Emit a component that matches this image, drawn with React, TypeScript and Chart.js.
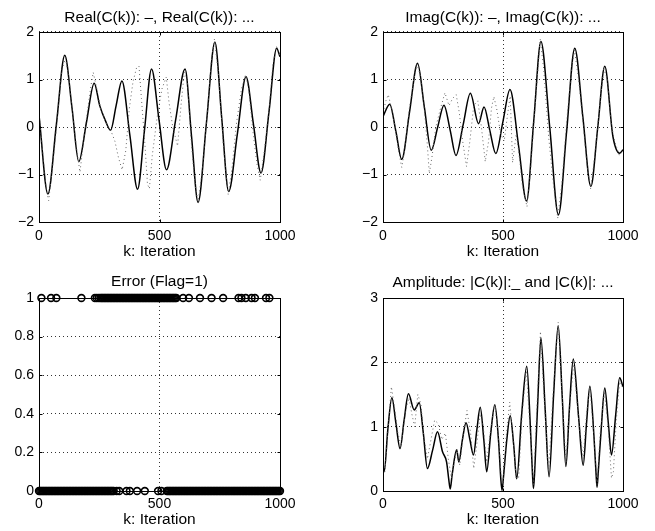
import React, { useEffect, useRef } from "react";
import { Chart, registerables } from "chart.js";

Chart.register(...registerables);

const FONT = '"Liberation Sans", Arial, Helvetica, sans-serif';

// ---- tick labels ----
const kTicks = [0, 500, 1000];
const reImTicks = [-2, -1, 0, 1, 2];
const flagTicks = [0, 0.2, 0.4, 0.6, 0.8, 1];
const ampTicks = [0, 1, 2, 3];

// ---- Real(C(k)) : solid ----
const realK = [0, 37, 72, 107, 137, 165, 197, 229, 252, 275, 297, 320, 344, 377, 409, 438, 467, 498, 529, 567, 606, 633, 660, 695, 730, 758, 787, 823, 859, 890, 921, 955, 986, 1000];
const realVal = [0.25, -1.41, 0.05, 1.51, 0.4, -0.73, 0.1, 0.92, 0.45, 0.14, -0.07, 0.45, 0.97, -0.17, -1.31, -0.05, 1.22, 0.15, -0.9, 0.15, 1.22, -0.2, -1.59, 0.1, 1.79, 0.2, -1.36, -0.15, 1.06, 0.05, -0.97, 0.35, 1.66, 1.48];
// ---- Real(C(k)) estimate : dotted ----
const realEstK = [0, 15, 30, 40, 55, 75, 95, 110, 125, 145, 160, 170, 185, 200, 215, 225, 240, 255, 270, 285, 300, 315, 330, 345, 360, 375, 390, 405, 415, 425, 440, 450, 458, 470, 490, 510, 528, 540, 555, 575, 590, 603, 615, 630, 645, 660, 680, 700, 715, 728, 745, 765, 785, 800, 820, 840, 857, 870, 890, 905, 918, 935, 955, 970, 985, 1000];
const realEstVal = [0.3, -0.5, -1.3, -1.55, -0.9, 0.1, 1.2, 1.45, 1.0, 0.0, -0.6, -0.95, -0.3, 0.3, 0.85, 1.15, 0.8, 0.4, 0.2, 0.0, -0.1, -0.3, -0.65, -0.9, -0.5, 0.4, 0.95, 1.25, 1.28, 0.6, -0.4, -1.2, -1.3, -0.6, 0.2, 0.8, 1.05, 0.5, 0.0, -0.4, 0.5, 1.15, 1.0, -0.2, -1.1, -1.6, -0.8, 0.4, 1.4, 1.85, 1.1, -0.4, -1.42, -0.9, 0.1, 0.8, 1.1, 0.8, -0.2, -0.8, -1.12, -0.5, 0.4, 1.3, 1.7, 1.5];

// ---- Imag(C(k)) : solid ----
const imagK = [0, 28, 54, 78, 111, 144, 172, 201, 228, 254, 280, 304, 334, 364, 398, 421, 445, 470, 500, 529, 565, 598, 628, 658, 695, 731, 765, 799, 833, 866, 895, 924, 958, 986, 1000];
const imagVal = [0.22, 0.48, -0.1, -0.68, 0.33, 1.34, 0.43, -0.49, 0.0, 0.46, -0.07, -0.6, 0.05, 0.71, 0.07, 0.42, -0.07, -0.56, 0.12, 0.79, -0.4, -1.56, 0.12, 1.8, -0.02, -1.85, -0.1, 1.66, 0.2, -1.25, 0.0, 1.28, -0.2, -0.55, -0.48];
// ---- Imag(C(k)) estimate : dotted ----
const imagEstK = [0, 12, 22, 35, 50, 65, 78, 90, 110, 130, 142, 155, 170, 185, 193, 205, 220, 240, 258, 275, 290, 305, 318, 332, 348, 362, 378, 395, 410, 426, 440, 452, 462, 475, 490, 505, 520, 530, 540, 555, 565, 580, 600, 615, 635, 655, 670, 690, 710, 728, 745, 765, 785, 798, 815, 835, 850, 865, 880, 900, 920, 935, 950, 965, 985, 1000];
const imagEstVal = [0.3, 0.55, 0.68, 0.4, 0.0, -0.5, -0.85, -0.5, 0.4, 1.05, 1.32, 1.1, 0.5, -0.4, -0.98, -0.6, 0.0, 0.4, 0.72, 0.45, 0.6, 0.68, 0.3, -0.3, -0.83, -0.3, 0.45, 0.55, 0.0, -0.73, -0.3, 0.4, 0.64, 0.35, -0.15, -0.3, 0.3, 0.65, -0.75, -0.15, -0.5, -1.2, -1.68, -0.9, 0.5, 1.85, 1.2, -0.2, -1.2, -1.92, -1.2, 0.1, 1.2, 1.62, 1.0, 0.0, -0.8, -1.3, -0.7, 0.3, 1.22, 1.0, 0.1, -0.3, -0.6, -0.5];

// ---- Error flag: iterations with Flag=1 and Flag=0 ----
const flagOneK = [10, 50, 72, 176, 232, 240, 248, 255, 260, 265, 270, 275, 280, 285, 290, 295, 300, 305, 310, 315, 320, 325, 330, 335, 340, 345, 350, 355, 360, 365, 370, 375, 380, 385, 390, 395, 400, 405, 410, 415, 420, 425, 430, 435, 440, 445, 450, 455, 460, 465, 470, 475, 480, 485, 490, 495, 500, 505, 510, 515, 520, 525, 530, 535, 540, 545, 550, 555, 560, 565, 570, 598, 622, 668, 716, 764, 828, 840, 858, 882, 896, 942, 956];
const flagZeroK = [0, 5, 10, 15, 20, 25, 30, 35, 40, 45, 50, 55, 60, 65, 70, 75, 80, 85, 90, 95, 100, 105, 110, 115, 120, 125, 130, 135, 140, 145, 150, 155, 160, 165, 170, 175, 180, 185, 190, 195, 200, 205, 210, 215, 220, 225, 230, 235, 240, 245, 250, 255, 260, 265, 270, 275, 280, 285, 290, 295, 300, 305, 310, 322, 333, 363, 377, 407, 439, 494, 508, 530, 535, 540, 545, 550, 555, 560, 565, 570, 575, 580, 585, 590, 595, 600, 605, 610, 615, 620, 625, 630, 635, 640, 645, 650, 655, 660, 665, 670, 675, 680, 685, 690, 695, 700, 705, 710, 715, 720, 725, 730, 735, 740, 745, 750, 755, 760, 765, 770, 775, 780, 785, 790, 795, 800, 805, 810, 815, 820, 825, 830, 835, 840, 845, 850, 855, 860, 865, 870, 875, 880, 885, 890, 895, 900, 905, 910, 915, 920, 925, 930, 935, 940, 945, 950, 955, 960, 965, 970, 975, 980, 985, 990, 995, 1000];

// ---- Amplitude |C(k)| : solid ----
const ampK = [0, 5, 20, 37, 54, 71, 88, 106, 130, 151, 168, 185, 207, 227, 248, 265, 274, 280, 288, 307, 316, 331, 346, 362, 377, 391, 405, 420, 432, 449, 466, 482, 491, 496, 502, 516, 530, 545, 557, 578, 599, 614, 623, 627, 632, 645, 658, 676, 692, 711, 730, 747, 762, 777, 793, 815, 834, 848, 862, 879, 888, 892, 897, 909, 924, 939, 952, 970, 986, 1000];
const ampVal = [0.45, 0.3, 0.95, 1.45, 1.05, 0.66, 1.1, 1.51, 1.26, 1.37, 0.9, 0.35, 0.64, 0.92, 0.61, 0.45, 0.18, 0.03, 0.25, 0.64, 0.45, 0.8, 1.06, 0.8, 0.56, 0.95, 1.3, 0.8, 0.3, 0.9, 1.34, 0.75, 0.18, 0.01, 0.22, 0.8, 1.17, 0.7, 0.19, 1.2, 1.94, 1.0, 0.25, 0.04, 0.3, 1.4, 2.38, 1.25, 0.22, 1.5, 2.57, 1.45, 0.38, 1.3, 2.05, 1.15, 0.4, 1.05, 1.63, 0.85, 0.25, 0.06, 0.3, 0.95, 1.6, 1.05, 0.56, 1.2, 1.76, 1.62];
// ---- Amplitude estimate : dotted ----
const ampEstK = [0, 8, 22, 35, 48, 62, 75, 95, 108, 120, 132, 145, 158, 170, 185, 200, 215, 230, 245, 260, 272, 285, 297, 308, 320, 335, 350, 365, 378, 390, 405, 418, 432, 450, 465, 480, 492, 500, 512, 528, 542, 555, 565, 580, 597, 612, 627, 640, 656, 672, 690, 710, 730, 748, 762, 780, 795, 815, 834, 848, 862, 878, 892, 905, 922, 938, 952, 960, 972, 986, 1000];
const ampEstVal = [0.5, 0.3, 1.0, 1.62, 1.3, 0.9, 0.7, 1.25, 1.45, 1.2, 1.0, 1.5, 1.35, 0.85, 0.5, 0.8, 1.1, 1.05, 0.8, 0.9, 0.5, 0.2, 0.45, 0.65, 0.4, 0.9, 1.25, 0.9, 0.35, 0.7, 1.2, 1.0, 0.45, 1.0, 1.35, 0.9, 0.25, 0.1, 0.8, 1.38, 0.8, 0.2, 0.2, 1.2, 1.9, 1.0, 0.1, 1.2, 2.48, 1.4, 0.3, 1.6, 2.62, 1.4, 0.45, 1.4, 2.0, 1.1, 0.5, 1.2, 1.6, 0.9, 0.1, 0.9, 1.55, 1.0, 0.2, 0.3, 1.1, 1.7, 1.6];

const pts = (xs: number[], ys: number[]) => xs.map((x, i) => ({ x, y: ys[i] }));
const flagPts = (xs: number[], flag: number) => xs.map((x) => ({ x, y: flag }));

const fmtTick = (v: number) => (v < 0 ? "\u2212" + String(Math.abs(v)) : String(v));

const solidDs = (xs: number[], ys: number[]) => ({
  data: pts(xs, ys),
  showLine: true,
  borderColor: "#000",
  borderWidth: 1.5,
  pointRadius: 0,
  cubicInterpolationMode: "monotone",
  fill: false,
});
const dottedDs = (xs: number[], ys: number[]) => ({
  data: pts(xs, ys),
  showLine: true,
  borderColor: "#666",
  borderWidth: 1,
  borderDash: [1, 3],
  pointRadius: 0,
  tension: 0,
  fill: false,
});
const circleDs = (data: { x: number; y: number }[]) => ({
  data,
  showLine: false,
  pointStyle: "circle",
  pointRadius: 3.4,
  pointBorderColor: "#000",
  pointBackgroundColor: "rgba(0,0,0,0)",
  pointBorderWidth: 1.6,
  clip: false,
});

const boxPlugin = {
  id: "matlabBox",
  afterDraw(chart: any) {
    const { ctx, chartArea } = chart;
    const xs = chart.scales.x;
    const ys = chart.scales.y;
    const l = Math.round(chartArea.left) + 0.5;
    const r = Math.round(chartArea.right) + 0.5;
    const t = Math.round(chartArea.top) + 0.5;
    const b = Math.round(chartArea.bottom) + 0.5;
    ctx.save();
    ctx.strokeStyle = "#000";
    ctx.lineWidth = 1;
    ctx.setLineDash([]);
    ctx.strokeRect(l, t, r - l, b - t);
    const tl = 3;
    ctx.beginPath();
    xs.ticks.forEach((tk: any) => {
      const px = Math.round(xs.getPixelForValue(tk.value)) + 0.5;
      ctx.moveTo(px, b);
      ctx.lineTo(px, b - tl);
      ctx.moveTo(px, t);
      ctx.lineTo(px, t + tl);
    });
    ys.ticks.forEach((tk: any) => {
      const py = Math.round(ys.getPixelForValue(tk.value)) + 0.5;
      ctx.moveTo(l, py);
      ctx.lineTo(l + tl, py);
      ctx.moveTo(r, py);
      ctx.lineTo(r - tl, py);
    });
    ctx.stroke();
    ctx.restore();
  },
};

type Spec = {
  left: number;
  top: number;
  width: number;
  height: number;
  yW: number;
  padR: number;
  xH: number;
  titlePad: { top: number; bottom: number };
  tickPad: number;
  xTitlePad: number;
  title: string;
  yTicks: number[];
  datasets: any[];
};

function SubPlot({ spec }: { spec: Spec }) {
  const ref = useRef<HTMLCanvasElement>(null);
  useEffect(() => {
    const grid = { color: "rgba(0,0,0,0.8)", lineWidth: 1, drawTicks: false };
    const border = { display: false, dash: [1, 3] };
    const chart = new Chart(ref.current as HTMLCanvasElement, {
      type: "scatter",
      data: { datasets: spec.datasets },
      options: {
        animation: false,
        responsive: false,
        devicePixelRatio: 1,
        events: [],
        layout: { padding: { left: 0, top: 0, right: spec.padR, bottom: 0 } },
        plugins: {
          legend: { display: false },
          tooltip: { enabled: false },
          title: {
            display: true,
            text: spec.title,
            fullSize: false,
            color: "#000",
            font: { family: FONT, size: 15.5, weight: "normal", lineHeight: 1.2 },
            padding: spec.titlePad,
          },
        },
        scales: {
          x: {
            type: "linear",
            min: kTicks[0],
            max: kTicks[kTicks.length - 1],
            afterBuildTicks: (s: any) => {
              s.ticks = kTicks.map((v) => ({ value: v }));
            },
            afterFit: (s: any) => {
              s.height = spec.xH;
            },
            ticks: {
              padding: spec.tickPad,
              color: "#000",
              autoSkip: false,
              maxRotation: 0,
              font: { family: FONT, size: 14, lineHeight: 1.2 },
              callback: (v: any) => fmtTick(Number(v)),
            },
            grid,
            border,
            title: {
              display: true,
              text: "k: Iteration",
              color: "#000",
              font: { family: FONT, size: 15.5, lineHeight: 1.2 },
              padding: { top: 0, bottom: spec.xTitlePad },
            },
          },
          y: {
            type: "linear",
            min: spec.yTicks[0],
            max: spec.yTicks[spec.yTicks.length - 1],
            afterBuildTicks: (s: any) => {
              s.ticks = spec.yTicks.map((v) => ({ value: v }));
            },
            afterFit: (s: any) => {
              s.width = spec.yW;
            },
            ticks: {
              padding: 5,
              color: "#000",
              autoSkip: false,
              font: { family: FONT, size: 14, lineHeight: 1.2 },
              callback: (v: any) => fmtTick(Number(v)),
            },
            grid,
            border,
          },
        },
      } as any,
      plugins: [boxPlugin],
    });
    return () => chart.destroy();
  }, []);
  return (
    <canvas
      ref={ref}
      width={spec.width}
      height={spec.height}
      style={{
        position: "absolute",
        left: spec.left,
        top: spec.top,
        width: spec.width,
        height: spec.height,
        display: "block",
      }}
    />
  );
}

const specs: Spec[] = [
  {
    left: 0, top: 0, width: 330, height: 265, yW: 39, padR: 50, xH: 43,
    titlePad: { top: 8.7, bottom: 4.7 }, tickPad: 5.6, xTitlePad: 4.2,
    title: "Real(C(k)): \u2013, Real(C(k)): ...",
    yTicks: reImTicks,
    datasets: [dottedDs(realEstK, realEstVal), solidDs(realK, realVal)],
  },
  {
    left: 330, top: 0, width: 325, height: 265, yW: 53, padR: 32, xH: 43,
    titlePad: { top: 8.7, bottom: 4.7 }, tickPad: 5.6, xTitlePad: 4.2,
    title: "Imag(C(k)): \u2013, Imag(C(k)): ...",
    yTicks: reImTicks,
    datasets: [dottedDs(imagEstK, imagEstVal), solidDs(imagK, imagVal)],
  },
  {
    left: 0, top: 265, width: 330, height: 266, yW: 39, padR: 50, xH: 40,
    titlePad: { top: 7.9, bottom: 6.5 }, tickPad: 4.8, xTitlePad: 1.7,
    title: "Error (Flag=1)",
    yTicks: flagTicks,
    datasets: [circleDs(flagPts(flagOneK, 1)), circleDs(flagPts(flagZeroK, 0))],
  },
  {
    left: 330, top: 265, width: 325, height: 266, yW: 53, padR: 32, xH: 40,
    titlePad: { top: 8.5, bottom: 5.9 }, tickPad: 4.8, xTitlePad: 1.7,
    title: "Amplitude: |C(k)|:_ and |C(k)|: ...",
    yTicks: ampTicks,
    datasets: [dottedDs(ampEstK, ampEstVal), solidDs(ampK, ampVal)],
  },
];

export default function App() {
  return (
    <div style={{ position: "absolute", left: 0, top: 0, width: 655, height: 531, background: "#fff" }}>
      {specs.map((s, i) => (
        <SubPlot key={i} spec={s} />
      ))}
    </div>
  );
}
